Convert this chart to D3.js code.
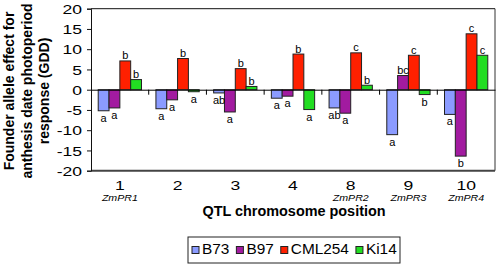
<!DOCTYPE html>
<html>
<head>
<meta charset="utf-8">
<script src="https://cdn.jsdelivr.net/npm/d3@7"></script>
<style>
  body { margin: 0; background: #fff; }
  text { font-family: "Liberation Sans", Arial, sans-serif; }
</style>
</head>
<body>
<div id="chart"></div>
<script>
// QTL positions on the x axis, with the named photoperiod QTL under some of them
const positions = ["1", "2", "3", "4", "8", "9", "10"];
const qtlNames = ["ZmPR1", "", "", "", "ZmPR2", "ZmPR3", "ZmPR4"];
const founders = ["B73", "B97", "CML254", "Ki14"];

// founder allele effects (GDD)
const b73 = [-5.2, -4.7, -0.8, -2.1, -4.5, -11.1, -6.1];
const b97 = [-4.5, -2.5, -5.5, -1.6, -5.8, 3.5, -16.4];
const cml254 = [7.1, 7.7, 5.2, 8.8, 9.1, 8.5, 13.8];
const ki14 = [2.5, -0.5, 0.8, -4.9, 1.1, -1.2, 8.5];

// significance letters above / below each bar
const b73Letters = ["a", "a", "ab", "a", "ab", "a", "a"];
const b97Letters = ["a", "a", "a", "a", "a", "bc", "b"];
const cml254Letters = ["b", "b", "b", "b", "c", "c", "c"];
const ki14Letters = ["b", "a", "b", "a", "b", "b", "c"];

const yTicks = [-20, -15, -10, -5, 0, 5, 10, 15, 20];
const colors = ["#8b9bff", "#a21ba0", "#ff2000", "#22dd22"];

const series = [b73, b97, cml254, ki14];
const letters = [b73Letters, b97Letters, cml254Letters, ki14Letters];

const W = 498, H = 265;
const plot = { left: 91, right: 495, top: 8.7, bottom: 170.7 };

const svg = d3.select("#chart").append("svg")
  .attr("width", W)
  .attr("height", H);

const x0 = d3.scaleBand()
  .domain(positions)
  .range([plot.left, plot.right])
  .paddingInner(0.25)
  .paddingOuter(0.125);

const x1 = d3.scaleBand()
  .domain(founders)
  .range([0, x0.bandwidth()]);

const y = d3.scaleLinear()
  .domain([-20, 20])
  .range([plot.bottom, plot.top]);

// frame: top, right, bottom
svg.append("line")
  .attr("x1", plot.left).attr("x2", plot.right)
  .attr("y1", plot.top).attr("y2", plot.top)
  .attr("stroke", "#111").attr("stroke-width", 1);
svg.append("line")
  .attr("x1", plot.right).attr("x2", plot.right)
  .attr("y1", plot.top).attr("y2", plot.bottom)
  .attr("stroke", "#333").attr("stroke-width", 1);
svg.append("line")
  .attr("x1", plot.left).attr("x2", plot.right)
  .attr("y1", plot.bottom).attr("y2", plot.bottom)
  .attr("stroke", "#444").attr("stroke-width", 2);

// y axis
const yAxis = svg.append("g")
  .attr("transform", `translate(${plot.left},0)`)
  .call(d3.axisLeft(y).tickValues(yTicks).tickSize(4).tickFormat(d3.format("d")));
yAxis.select(".domain").attr("stroke", "#111");
yAxis.selectAll(".tick line").attr("stroke", "#111");
yAxis.selectAll(".tick text")
  .attr("x", null)
  .attr("dy", "0.35em")
  .attr("transform", "translate(-9,0) scale(1.35,1)")
  .attr("font-size", 13)
  .attr("fill", "#000")
  .text(d => d < 0 ? "-" + Math.abs(d) : d);

// bars
const groups = svg.append("g")
  .selectAll("g")
  .data(positions)
  .join("g")
  .attr("transform", d => `translate(${x0(d)},0)`);

groups.selectAll("rect")
  .data((d, i) => founders.map((f, k) => ({ f, k, v: series[k][i], lab: letters[k][i] })))
  .join("rect")
  .attr("x", d => x1(d.f))
  .attr("width", x1.bandwidth())
  .attr("y", d => y(Math.max(0, d.v)))
  .attr("height", d => Math.abs(y(d.v) - y(0)))
  .attr("fill", d => colors[d.k])
  .attr("stroke", "#222")
  .attr("stroke-width", 1);

groups.selectAll("text.sig")
  .data((d, i) => founders.map((f, k) => ({ f, k, v: series[k][i], lab: letters[k][i] })))
  .join("text")
  .attr("class", "sig")
  .attr("x", d => x1(d.f) + x1.bandwidth() / 2)
  .attr("y", d => d.v >= 0 ? y(d.v) - 1.5 : y(d.v) + 11)
  .attr("text-anchor", "middle")
  .attr("font-size", 11)
  .attr("fill", "#000")
  .text(d => d.lab);

// zero line with ticks between groups
const zeroAxis = svg.append("g")
  .attr("transform", `translate(0,${y(0)})`)
  .call(d3.axisBottom(x0).tickSize(0).tickFormat(""));
zeroAxis.select(".domain").attr("stroke", "#000");
zeroAxis.selectAll(".tick").remove();
const step = x0.step();
zeroAxis.selectAll("line.sep")
  .data(positions.slice(1))
  .join("line")
  .attr("class", "sep")
  .attr("x1", d => x0(d) - step * 0.125)
  .attr("x2", d => x0(d) - step * 0.125)
  .attr("y1", 0).attr("y2", 5)
  .attr("stroke", "#000");

// category labels
const cat = svg.append("g");
positions.forEach((p, i) => {
  const cx = x0(p) + x0.bandwidth() / 2;
  cat.append("text")
    .attr("transform", `translate(${cx},189.5) scale(1.35,1)`)
    .attr("text-anchor", "middle")
    .attr("font-size", 13)
    .text(p);
  if (qtlNames[i]) {
    cat.append("text")
      .attr("transform", `translate(${cx},200.5) scale(1.25,1)`)
      .attr("text-anchor", "middle")
      .attr("font-size", 8.5)
      .attr("font-style", "italic")
      .text(qtlNames[i]);
  }
});

// axis titles
svg.append("text")
  .attr("transform", `translate(${(plot.left + plot.right) / 2 + 1},216) scale(1.03,1)`)
  .attr("text-anchor", "middle")
  .attr("font-size", 14)
  .attr("font-weight", "bold")
  .text("QTL chromosome position");

const yTitle = ["Founder allele effect for", "anthesis date photoperiod", "response (GDD)"];
yTitle.forEach((t, i) => {
  svg.append("text")
    .attr("transform", `translate(${14 + i * 17.5},91) rotate(-90)`)
    .attr("text-anchor", "middle")
    .attr("font-size", 14)
    .attr("font-weight", "bold")
    .text(t);
});

// legend
const legend = svg.append("g");
legend.append("rect")
  .attr("x", 188).attr("y", 237)
  .attr("width", 212).attr("height", 26)
  .attr("fill", "#fff")
  .attr("stroke", "#222");
let cursor = 192;
founders.forEach((f, k) => {
  legend.append("rect")
    .attr("x", cursor).attr("y", 246.5)
    .attr("width", 7).attr("height", 7)
    .attr("fill", colors[k])
    .attr("stroke", "#222");
  cursor += 10;
  const t = legend.append("text")
    .attr("transform", `translate(${cursor},254) scale(1.1,1)`)
    .attr("font-size", 14)
    .text(f);
  cursor += t.node().getComputedTextLength() * 1.1 + 7;
});
</script>
</body>
</html>
